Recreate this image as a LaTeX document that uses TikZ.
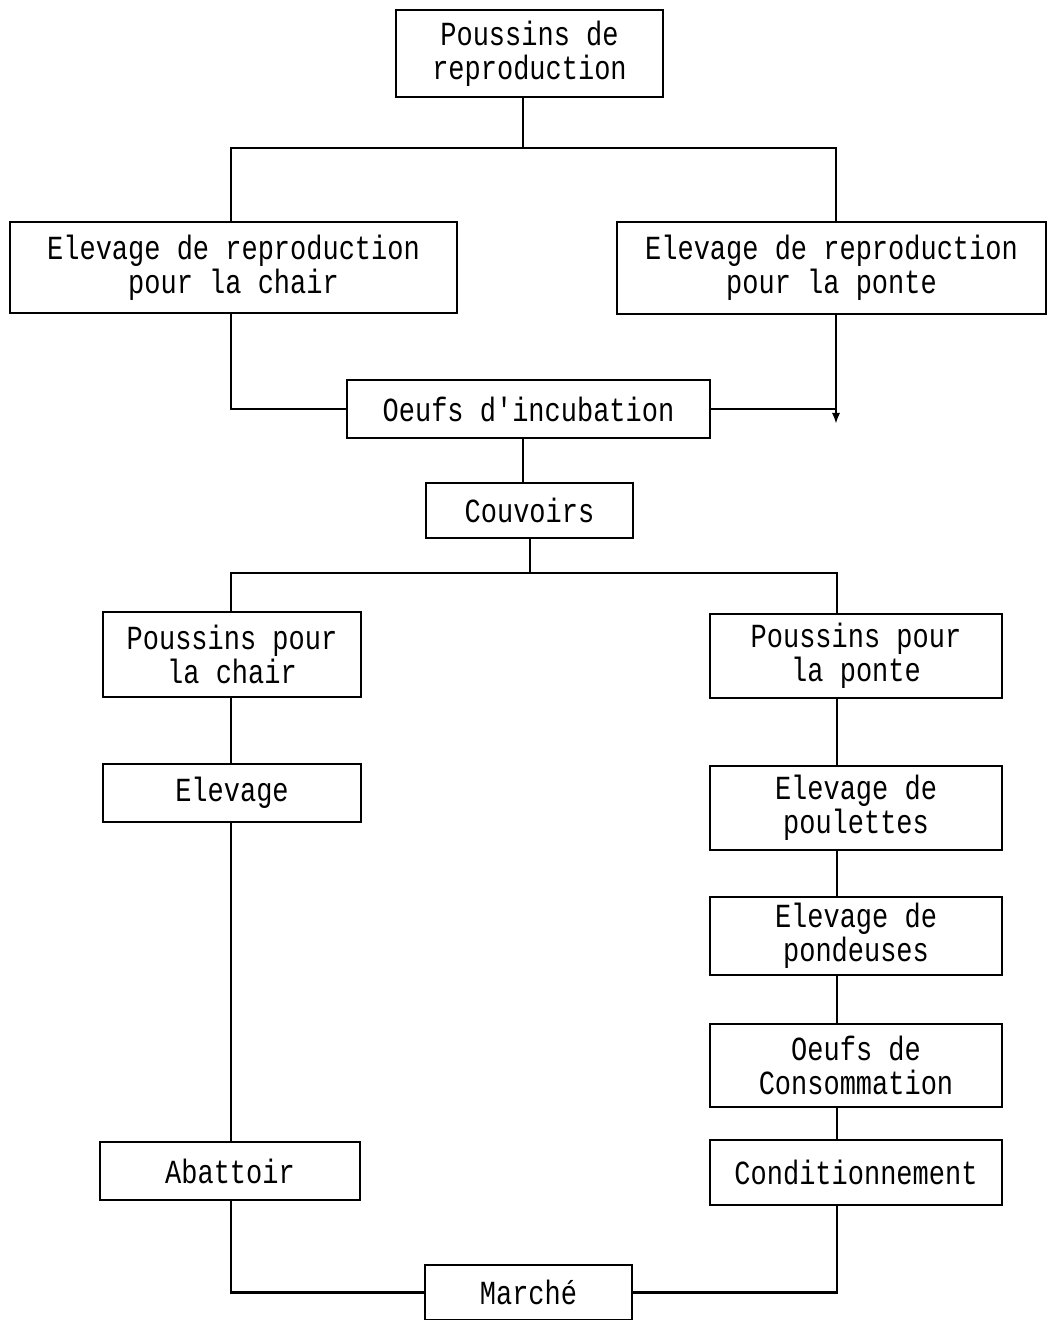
\documentclass[tikz,border=0pt]{standalone}
\usepackage{fontspec}
\setmonofont[FakeStretch=0.8]{Liberation Mono}
\usetikzlibrary{arrows.meta,positioning}
\newlength\unitpx
\setlength\unitpx{0.025cm}
\tikzset{
  box/.style={draw, line width=2.1pt, align=center, inner sep=0pt,
    font=\ttfamily\fontsize{24}{24}\selectfont},
  link/.style={line width=2.1pt, line join=miter}
}
\begin{document}
\begin{tikzpicture}[x=0.025cm,y=-0.025cm]
      \useasboundingbox (0,0) rectangle (1048,1320);
      % top part
      \node[box, minimum width=267\unitpx, minimum height=87\unitpx] (pousrep) at (529.5,53.5) {Poussins de\\reproduction};
      \node[box, minimum width=447\unitpx, minimum height=91\unitpx] (repchair) at (233.5,267.5) {Elevage de reproduction\\pour la chair};
      \node[box, minimum width=429\unitpx, minimum height=92\unitpx] (repponte) at (831.5,268) {Elevage de reproduction\\pour la ponte};
      \node[box, minimum width=363\unitpx, minimum height=58\unitpx] (oeufsinc) at (528.5,409) {Oeufs d'incubation};
      \node[box, minimum width=207\unitpx, minimum height=55\unitpx] (couvoirs) at (529.5,510.5) {Couvoirs};
      % left branch
      \node[box, minimum width=258\unitpx, minimum height=85\unitpx] (pouschair) at (232,654.5) {Poussins pour\\la chair};
      \node[box, minimum width=258\unitpx, minimum height=58\unitpx] (elevage) at (232,793) {Elevage};
      \node[box, minimum width=260\unitpx, minimum height=58\unitpx] (abattoir) at (230,1171) {Abattoir};
      % right branch
      \node[box, minimum width=292\unitpx, minimum height=84\unitpx] (pousponte) at (856,656) {Poussins pour\\la ponte};
      \node[box, minimum width=292\unitpx, minimum height=84\unitpx] (poulettes) at (856,808) {Elevage de\\poulettes};
      \node[box, minimum width=292\unitpx, minimum height=78\unitpx] (pondeuses) at (856,936) {Elevage de\\pondeuses};
      \node[box, minimum width=292\unitpx, minimum height=83\unitpx] (oeufscons) at (856,1065.5) {Oeufs de\\Consommation};
      \node[box, minimum width=292\unitpx, minimum height=65\unitpx] (condit) at (856,1172.5) {Conditionnement};
      \node[box, minimum width=207\unitpx, minimum height=55\unitpx] (marche) at (528.5,1292.5) {March\'e};
      % connectors
      \coordinate (split1) at (523,148);
      \coordinate (split2) at (530,573);
      \coordinate (pend) at (836,424);
      \draw[link] (pousrep.south -| split1) -- (split1);
      \draw[link] (repchair.north -| 231,0) |- (split1) -| (repponte.north -| 836,0);
      \draw[link] (repchair.south -| 231,0) |- (oeufsinc.west);
      \draw[link] (oeufsinc.east) -- (oeufsinc.east -| pend);
      \draw[link, -{Latex[length=8pt,width=6pt]}] (repponte.south -| pend) -- (pend);
      \draw[link] (oeufsinc.south -| 523,0) -- (couvoirs.north -| 523,0);
      \draw[link] (couvoirs.south -| split2) -- (split2);
      \draw[link] (pouschair.north -| 231,0) |- (split2) -| (pousponte.north -| 837,0);
      \draw[link] (pouschair.south -| 231,0) -- (elevage.north -| 231,0);
      \draw[link] (elevage.south -| 231,0) -- (abattoir.north -| 231,0);
      \draw[link] (pousponte.south -| 837,0) -- (poulettes.north -| 837,0);
      \draw[link] (poulettes.south -| 837,0) -- (pondeuses.north -| 837,0);
      \draw[link] (pondeuses.south -| 837,0) -- (oeufscons.north -| 837,0);
      \draw[link] (oeufscons.south -| 837,0) -- (condit.north -| 837,0);
      \draw[link] (abattoir.south -| 231,0) |- (marche.west);
      \draw[link] (condit.south -| 837,0) |- (marche.east);
\end{tikzpicture}
\end{document}
